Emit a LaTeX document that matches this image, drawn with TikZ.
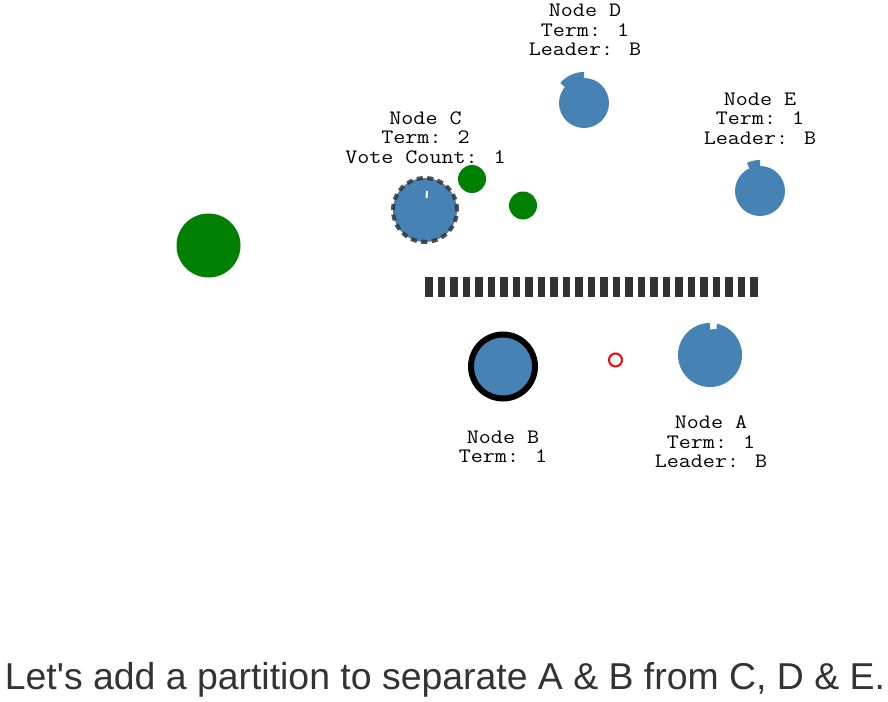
\documentclass[tikz,border=0pt]{standalone}
\usepackage{fontspec}
\setmainfont{Liberation Sans}
\newfontfamily\labfont{Latin Modern Mono}[FakeStretch=1.14]
\definecolor{steel}{HTML}{4682B4}
\definecolor{grn}{HTML}{008000}
\definecolor{dark}{HTML}{333333}
\begin{document}
\begin{tikzpicture}[x=1pt,y=-1pt,
  srv/.style={circle,fill=steel,inner sep=0pt,minimum size=#1},
  cand/.style={circle,fill=grn,inner sep=0pt,minimum size=#1},
  lab/.style={anchor=base,inner sep=0pt,font=\labfont\fontsize{20.5}{20}\selectfont,text=black}]
\useasboundingbox (0,0) rectangle (888,701);
% node D
\fill[steel] (584,103) -- ++(-90:31) arc[start angle=-90,end angle=-140,radius=31] -- cycle;
\node[srv=50pt] (D) at (584,103) {};
\node[lab] (d1) at (585,17) {Node D};
\node[lab] (d2) at (585,36.5) {Term: 1};
\node[lab] (d3) at (585,56) {Leader: B};
% node E
\fill[steel] (760,191) -- ++(-90:31) arc[start angle=-90,end angle=-115,radius=31] -- cycle;
\node[srv=50pt] (E) at (760,191) {};
\node[lab] (e1) at (760,105) {Node E};
\node[lab] (e2) at (760,124.5) {Term: 1};
\node[lab] (e3) at (760,144) {Leader: B};
% node C
\node[srv=64pt,draw=dark,draw opacity=0.85,line width=4pt,dash pattern=on 6pt off 4.5pt] (C) at (425,210) {};
\draw[white,line width=2pt] (427,191) -- (426.5,198);
\node[lab] (c1) at (425.5,124) {Node C};
\node[lab] (c2) at (425.5,143.5) {Term: 2};
\node[lab] (c3) at (425.5,163) {Vote Count: 1};
% votes / candidates
\node[cand=64pt] (g1) at (208.5,245.5) {};
\node[cand=28pt] (g2) at (472,179) {};
\node[cand=28pt] (g3) at (523,205.5) {};
% partition
\coordinate (p1) at (425,287);
\coordinate (p2) at (758,287);
\draw[dark,line width=20pt,dash pattern=on 7.5pt off 5pt] (p1) -- (p2);
% node B
\node[srv=64pt,draw=black,line width=6pt] (B) at (503,366.5) {};
\node[lab] (b1) at (503,443) {Node B};
\node[lab] (b2) at (503,462) {Term: 1};
% message
\node[circle,draw=red,line width=2pt,inner sep=0pt,minimum size=13pt] (m) at (615.5,360) {};
% node A
\node[srv=64pt] (A) at (710,355) {};
\fill[white] (710,321) -- (710,329.5) -- (716.5,328.8) -- (717,321) -- cycle;
\node[lab] (a1) at (711,428.5) {Node A};
\node[lab] (a2) at (711,448) {Term: 1};
\node[lab] (a3) at (711,467) {Leader: B};
% caption
\node[anchor=base,inner sep=0pt,text=dark,font=\fontsize{37.4}{40}\selectfont] (cap) at (445,689) {Let\textquotesingle s add a partition to separate A \& B from C, D \& E.};
\end{tikzpicture}
\end{document}
